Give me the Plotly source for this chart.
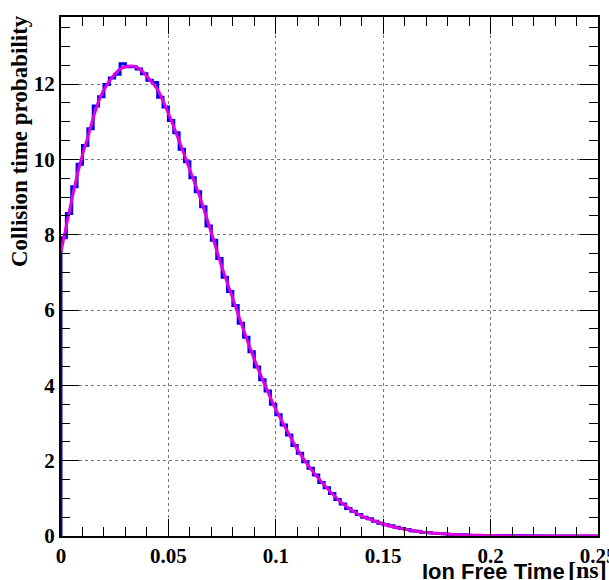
import plotly.graph_objects as go

# ---- data ----
bin_width = 0.0025
bin_start = 0.0
hist_values = [
    7.92, 8.56, 9.27, 9.87, 10.37, 10.81, 11.42, 11.66, 11.99, 12.16,
    12.26, 12.54, 12.46, 12.46, 12.40, 12.27, 12.10, 12.04, 11.65, 11.39,
    11.03, 10.71, 10.27, 9.94, 9.51, 9.14, 8.74, 8.23, 7.85, 7.37,
    6.87, 6.49, 6.12, 5.65, 5.28, 4.89, 4.49, 4.15, 3.85, 3.50,
    3.22, 2.95, 2.68, 2.40, 2.20, 1.97, 1.80, 1.62, 1.42, 1.28,
    1.13, 0.97, 0.85, 0.73, 0.66, 0.57, 0.50, 0.46, 0.39, 0.34,
    0.30, 0.27, 0.23, 0.20, 0.17, 0.14, 0.12, 0.10, 0.09, 0.075,
    0.065, 0.055, 0.045, 0.040, 0.033, 0.028, 0.022, 0.018, 0.015, 0.012,
    0.010, 0.008, 0.007, 0.006, 0.005, 0.004, 0.003, 0.003, 0.002, 0.002,
    0.002, 0.001, 0.001, 0.001, 0.001, 0.001, 0.0, 0.0, 0.0, 0.0,
]

fit_x = [0.0, 0.0025, 0.005, 0.0075, 0.01, 0.0125, 0.015, 0.0175, 0.02, 0.0225,
         0.025, 0.0275, 0.03, 0.0325, 0.035, 0.0375, 0.04, 0.045, 0.05, 0.055,
         0.06, 0.065, 0.07, 0.075, 0.08, 0.085, 0.09, 0.095, 0.1, 0.105,
         0.11, 0.115, 0.12, 0.125, 0.13, 0.135, 0.14, 0.145, 0.15, 0.155,
         0.16, 0.165, 0.17, 0.175, 0.18, 0.185, 0.19, 0.195, 0.2, 0.21,
         0.22, 0.23, 0.25]
fit_y = [7.55, 8.24, 8.92, 9.57, 10.12, 10.59, 11.10, 11.54, 11.85, 12.08,
         12.26, 12.40, 12.46, 12.48, 12.45, 12.36, 12.20, 11.85, 11.22, 10.49,
         9.72, 8.94, 8.05, 7.12, 6.30, 5.47, 4.69, 4.00, 3.36, 2.82,
         2.30, 1.88, 1.52, 1.20, 0.91, 0.70, 0.53, 0.42, 0.32, 0.24,
         0.18, 0.13, 0.095, 0.07, 0.05, 0.035, 0.025, 0.017, 0.012, 0.005,
         0.002, 0.001, 0.0]

x_tick_vals = [0, 0.05, 0.1, 0.15, 0.2, 0.25]
x_tick_text = ["0", "0.05", "0.1", "0.15", "0.2", "0.25"]
y_tick_vals = [0, 2, 4, 6, 8, 10, 12]
y_tick_text = ["0", "2", "4", "6", "8", "10", "12"]

x_title_main = "Ion Free Time"
x_title_unit = "[ns]"
y_title = "Collision time probability"

# ---- build step outline of histogram ----
n = len(hist_values)
edges = [bin_start + i * bin_width for i in range(n + 1)]
step_x = [edges[0]]
step_y = [0.0]
for i, v in enumerate(hist_values):
    step_x += [edges[i], edges[i + 1]]
    step_y += [v, v]
step_x.append(edges[-1])
step_y.append(0.0)

fig = go.Figure()
fig.add_trace(go.Scatter(x=step_x, y=step_y, mode="lines",
                         line=dict(color="#0000ee", width=3),
                         hoverinfo="skip", showlegend=False))
fig.add_trace(go.Scatter(x=fit_x, y=fit_y, mode="lines",
                         line=dict(color="#e000e0", width=3, shape="spline", smoothing=0.8),
                         hoverinfo="skip", showlegend=False))

tick_font = dict(family="Liberation Serif", size=21, color="black", weight="bold")

fig.update_xaxes(range=[0, 0.25], tickvals=x_tick_vals, ticktext=x_tick_text,
                 ticks="inside", ticklen=17, tickwidth=1, tickcolor="black",
                 showline=True, linecolor="black", linewidth=2, mirror="ticks",
                 showgrid=True, gridcolor="#777777", griddash="dot", gridwidth=1,
                 zeroline=False, tickfont=tick_font, automargin=False,
                 ticklabeloverflow="allow",
                 minor=dict(dtick=0.01, tick0=0, ticks="inside", ticklen=9,
                            tickcolor="black", tickwidth=1, showgrid=False))
fig.update_yaxes(range=[0, 13.78], tickvals=y_tick_vals, ticktext=y_tick_text,
                 ticks="inside", ticklen=18, tickwidth=1, tickcolor="black",
                 showline=True, linecolor="black", linewidth=2, mirror="ticks",
                 showgrid=True, gridcolor="#777777", griddash="dot", gridwidth=1,
                 zeroline=False, tickfont=tick_font, automargin=False,
                 ticklabeloverflow="allow",
                 minor=dict(dtick=0.5, tick0=0, ticks="inside", ticklen=9,
                            tickcolor="black", tickwidth=1, showgrid=False))

L, R, T, B = 61, 11, 17, 44
W, H = 609, 580
pw, ph = W - L - R, H - T - B

def px_to_paper_x(px):
    return (px - L) / pw

def px_to_paper_y(py):
    return (H - B - py) / ph

fig.add_annotation(text="<b>" + x_title_main + "</b>", xref="paper", yref="paper",
                   x=px_to_paper_x(567), y=px_to_paper_y(571), xanchor="right", yanchor="middle",
                   showarrow=False, font=dict(family="Liberation Sans", size=22, color="black"))
fig.add_annotation(text="<b>" + x_title_unit + "</b>", xref="paper", yref="paper",
                   x=px_to_paper_x(566), y=px_to_paper_y(570), xanchor="left", yanchor="middle",
                   showarrow=False, font=dict(family="Liberation Serif", size=24, color="black"))
fig.add_annotation(text="<b>" + y_title + "</b>", xref="paper", yref="paper",
                   x=px_to_paper_x(20), y=px_to_paper_y(141), xanchor="center", yanchor="middle",
                   textangle=-90, showarrow=False,
                   font=dict(family="Liberation Serif", size=23, color="black"))

fig.update_layout(width=W, height=H, margin=dict(l=L, r=R, t=T, b=B, autoexpand=False),
                  plot_bgcolor="white", paper_bgcolor="white",
                  font=dict(family="Liberation Serif", color="black"))

fig.write_html("out.html", config={"displayModeBar": False},
               post_script="document.body.style.margin='0';document.body.style.overflow='hidden';")
